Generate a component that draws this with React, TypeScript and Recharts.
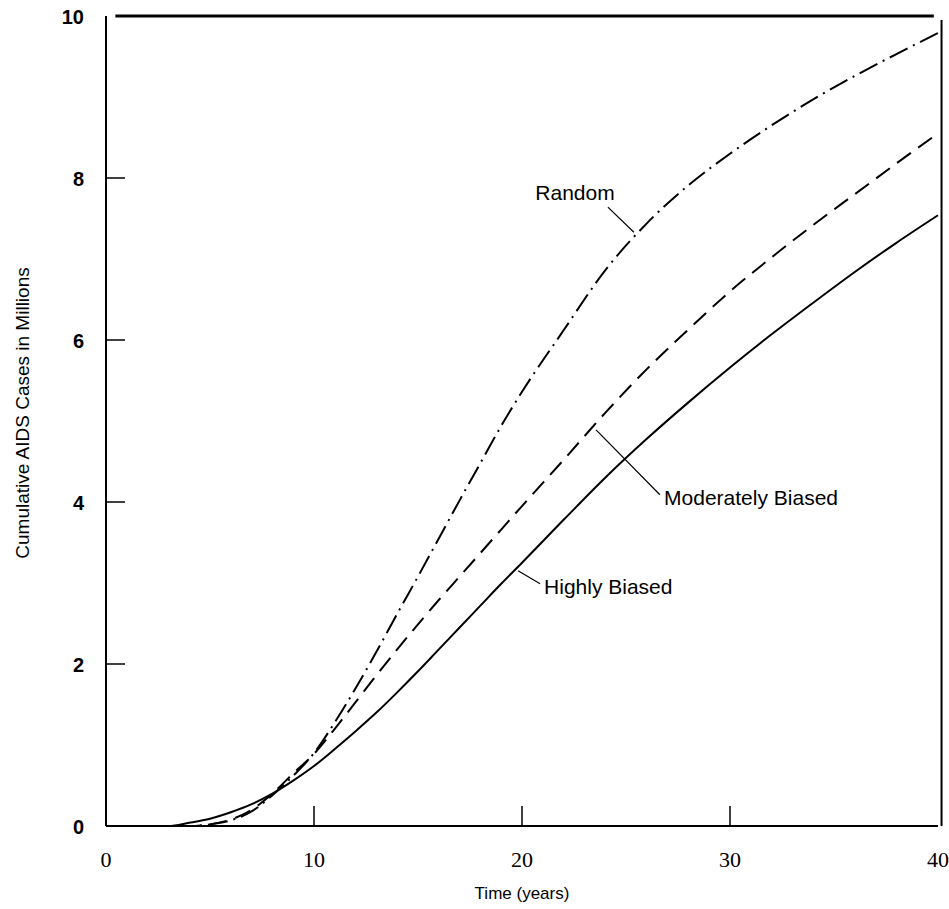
import { LineChart, Line, XAxis, YAxis, ReferenceLine, ReferenceDot } from "recharts";

// years since start of epidemic
const years = [0, 2, 3, 4, 5, 6, 7, 8, 9, 10, 11, 12, 13, 14, 15, 16, 17, 18, 19, 20, 22, 24, 26, 28, 30, 32, 34, 36, 38, 40];

// cumulative AIDS cases, millions
const highlyBiased = [0, 0, 0, 0.04, 0.09, 0.17, 0.27, 0.4, 0.56, 0.74, 0.95, 1.17, 1.4, 1.65, 1.91, 2.18, 2.45, 2.72, 2.99, 3.25, 3.78, 4.3, 4.78, 5.23, 5.66, 6.07, 6.46, 6.84, 7.2, 7.54];
const moderatelyBiased = [0, 0, 0, 0, 0.02, 0.08, 0.2, 0.4, 0.65, 0.89, 1.2, 1.53, 1.86, 2.18, 2.49, 2.79, 3.08, 3.37, 3.66, 3.95, 4.52, 5.1, 5.64, 6.13, 6.6, 7.02, 7.42, 7.8, 8.18, 8.55];
const randomMixing = [0, 0, 0, 0, 0.02, 0.07, 0.18, 0.38, 0.62, 0.9, 1.28, 1.7, 2.15, 2.62, 3.08, 3.55, 4.02, 4.48, 4.94, 5.36, 6.12, 6.86, 7.44, 7.91, 8.3, 8.65, 8.97, 9.26, 9.53, 9.79];

const xTicks = [0, 10, 20, 30, 40];
const yTicks = [0, 2, 4, 6, 8, 10];

const data = years.map((year, i) => ({
  year,
  highly: highlyBiased[i],
  moderate: moderatelyBiased[i],
  random: randomMixing[i],
}));

const sans = '"Liberation Sans", Arial, Helvetica, sans-serif';
const serif = '"Liberation Serif", "Times New Roman", serif';

function TimeTick(props: any) {
  const { x, y, payload } = props;
  const v = payload.value;
  return (
    <g>
      {v > 0 && v < 40 && <line x1={x} y1={y} x2={x} y2={y - 20} stroke="#000" strokeWidth={1.5} />}
      <text x={x} y={y + 41} textAnchor="middle" fontFamily={serif} fontSize={22} fill="#000">
        {v}
      </text>
    </g>
  );
}

function CasesTick(props: any) {
  const { x, y, payload } = props;
  const v = payload.value;
  return (
    <g>
      {v > 0 && v < 10 && <line x1={x} y1={y} x2={x + 19} y2={y} stroke="#000" strokeWidth={1.5} />}
      <text x={x - 22} y={y + 8} textAnchor="end" fontFamily={sans} fontWeight="bold" fontSize={20} fill="#000">
        {v}
      </text>
    </g>
  );
}

const note = (value: string, anchor: "middle" | "start") => (props: any) => {
  const { viewBox } = props;
  const cx = viewBox.x + viewBox.width / 2;
  const cy = viewBox.y + viewBox.height / 2;
  return (
    <text x={cx} y={cy + 7} textAnchor={anchor} fontFamily={sans} fontSize={21} fill="#000">
      {value}
    </text>
  );
};

export default function App() {
  return (
    <div style={{ position: "absolute", left: 0, top: 0 }}>
      <LineChart width={949} height={909} data={data} margin={{ top: 16, right: 11, bottom: 8, left: 8 }}>
        <XAxis
          dataKey="year"
          type="number"
          domain={[0, 40]}
          ticks={xTicks}
          height={75}
          tickSize={0}
          tickMargin={0}
          tick={<TimeTick />}
          axisLine={{ stroke: "#000", strokeWidth: 2 }}
          label={{
            content: (p: any) => (
              <text
                x={p.viewBox.x + p.viewBox.width / 2}
                y={p.viewBox.y + 73}
                textAnchor="middle"
                fontFamily={sans}
                fontSize={17}
                fill="#000"
              >
                Time (years)
              </text>
            ),
          }}
        />
        <YAxis
          type="number"
          domain={[0, 10]}
          ticks={yTicks}
          width={98}
          tickSize={0}
          tickMargin={0}
          tick={<CasesTick />}
          axisLine={{ stroke: "#000", strokeWidth: 2 }}
          label={{
            content: (p: any) => {
              const x = p.viewBox.x + 21;
              const y = p.viewBox.y + p.viewBox.height / 2 - 8;
              return (
                <text x={x} y={y} transform={`rotate(-90, ${x}, ${y})`} textAnchor="middle" fontFamily={sans} fontSize={19} fill="#000">
                  Cumulative AIDS Cases in Millions
                </text>
              );
            },
          }}
        />

        {/* frame */}
        <ReferenceLine segment={[{ x: 0.45, y: 10 }, { x: 39.8, y: 10 }]} stroke="#000" strokeWidth={3} ifOverflow="visible" />
        <ReferenceLine segment={[{ x: 40.17, y: 0 }, { x: 40.17, y: 9.95 }]} stroke="#000" strokeWidth={2} ifOverflow="visible" />

        <Line type="monotone" dataKey="random" stroke="#000" strokeWidth={2} strokeDasharray="20 6 2 6" dot={false} isAnimationActive={false} />
        <Line type="monotone" dataKey="moderate" stroke="#000" strokeWidth={2} strokeDasharray="17 9" dot={false} isAnimationActive={false} />
        <Line type="monotone" dataKey="highly" stroke="#000" strokeWidth={2} dot={false} isAnimationActive={false} />

        {/* callouts */}
        <ReferenceLine segment={[{ x: 24.13, y: 7.64 }, { x: 25.38, y: 7.33 }]} stroke="#000" strokeWidth={1.2} />
        <ReferenceLine segment={[{ x: 23.56, y: 4.89 }, { x: 26.63, y: 4.09 }]} stroke="#000" strokeWidth={1.2} />
        <ReferenceLine segment={[{ x: 19.81, y: 3.15 }, { x: 20.87, y: 2.99 }]} stroke="#000" strokeWidth={1.2} />
        <ReferenceDot x={22.55} y={7.82} r={0} stroke="none" fill="none" label={{ content: note("Random", "middle") }} />
        <ReferenceDot x={26.83} y={4.05} r={0} stroke="none" fill="none" label={{ content: note("Moderately Biased", "start") }} />
        <ReferenceDot x={21.06} y={2.95} r={0} stroke="none" fill="none" label={{ content: note("Highly Biased", "start") }} />
      </LineChart>
    </div>
  );
}
